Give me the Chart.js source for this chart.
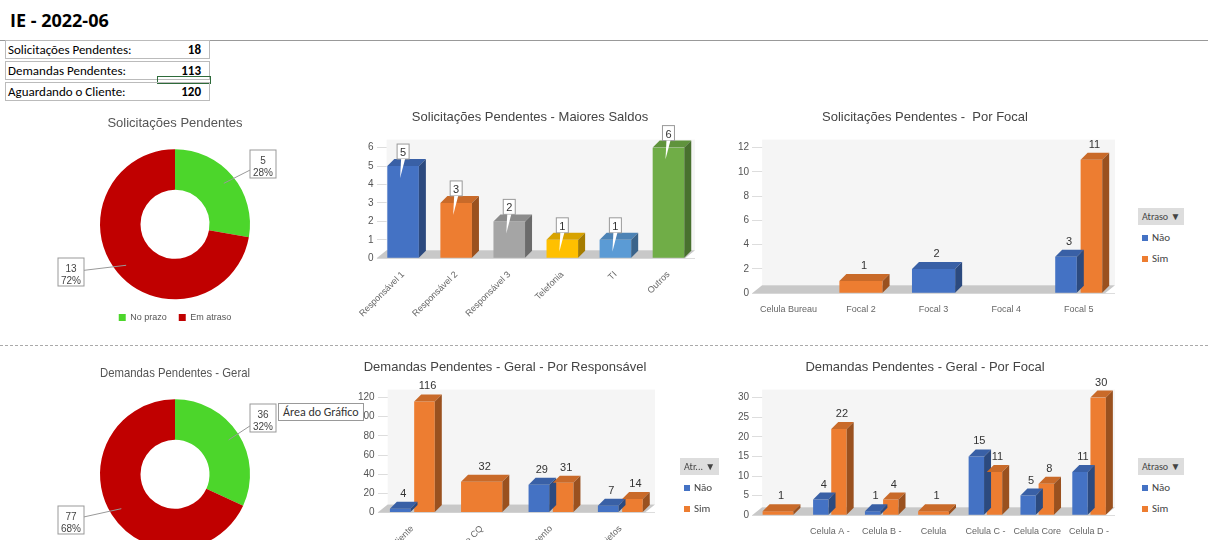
<!DOCTYPE html>
<html><head><meta charset="utf-8">
<script src="https://cdn.jsdelivr.net/npm/chart.js@4"></script>
<style>
body{margin:0;width:1208px;height:540px;background:#fff;font-family:Calibri,"Liberation Sans",Arial,sans-serif;position:relative;overflow:hidden}
.abs{position:absolute}
#title{left:10px;top:8px;font-weight:bold;font-size:18px;font-family:"Open Sans",sans-serif}
#hline{left:0;top:40px;width:1208px;border-top:1px solid #999}
#sep{left:0;top:345px;width:1208px;border-top:1px dashed #aaa}
.kpi{left:5px;width:203px;height:17px;border:1px solid #bbb;font-size:13px;line-height:17px}
.kpi span{position:absolute;right:8px;font-weight:bold}
.kpi b{font-weight:normal;padding-left:2px}
.leg{font-size:11px;color:#444}
.leg .hd{background:#ddd;padding:2px 4px;font-size:10px;margin-bottom:6px;white-space:nowrap}
.sq{display:inline-block;width:6px;height:6px;margin-right:4px}
canvas{position:absolute}
</style></head><body>
<div id="title" class="abs">IE - 2022-06</div>
<div id="hline" class="abs"></div>
<div class="kpi abs" style="top:40px"><b>Solicitações Pendentes:</b><span>18</span></div>
<div class="kpi abs" style="top:61px"><b>Demandas Pendentes:</b><span>113</span></div>
<div class="abs" style="left:157px;top:76px;width:52px;height:6px;border:1px solid #2e6b3a"></div>
<div class="kpi abs" style="top:82px"><b>Aguardando o Cliente:</b><span>120</span></div>
<div id="sep" class="abs"></div>

<canvas id="d1" style="left:40px;top:110px" width="270" height="222"></canvas>
<canvas id="b1" style="left:355px;top:110px" width="360" height="230"></canvas>
<canvas id="b2" style="left:725px;top:110px" width="410" height="228"></canvas>
<canvas id="d2" style="left:40px;top:360px" width="270" height="222"></canvas>
<canvas id="b3" style="left:355px;top:360px" width="330" height="230"></canvas>
<canvas id="b4" style="left:725px;top:360px" width="410" height="180"></canvas>

<div class="leg abs" style="left:1138px;top:208px"><div class="hd">Atraso ▼</div><div style="margin:4px"><span class="sq" style="background:#4472c4"></span>Não</div><div style="margin:8px 4px"><span class="sq" style="background:#ed7d31"></span>Sim</div></div>
<div class="leg abs" style="left:680px;top:458px"><div class="hd">Atr... ▼</div><div style="margin:4px"><span class="sq" style="background:#4472c4"></span>Não</div><div style="margin:8px 4px"><span class="sq" style="background:#ed7d31"></span>Sim</div></div>
<div class="leg abs" style="left:1138px;top:458px"><div class="hd">Atraso ▼</div><div style="margin:4px"><span class="sq" style="background:#4472c4"></span>Não</div><div style="margin:8px 4px"><span class="sq" style="background:#ed7d31"></span>Sim</div></div>
<div class="abs" style="left:278px;top:403px;border:1px solid #999;background:#fff;font-size:12px;padding:1px 4px;color:#333">Área do Gráfico</div>

<script>
const donut1Labels=["No prazo","Em atraso"];
const donut1Values=[5,13];
const donut2Labels=["No prazo","Em atraso"];
const donut2Values=[36,77];
const bar1Labels=["Responsável 1","Responsável 2","Responsável 3","Telefonia","TI","Outros"];
const bar1Values=[5,3,2,1,1,6];
const bar2Labels=["Celula Bureau","Focal 2","Focal 3","Focal 4","Focal 5"];
const bar2Nao=[null,null,2,null,3];
const bar2Sim=[null,1,null,null,11];
const bar3Labels=["Cliente","Homologação e CQ","Desenvolvimento","Projetos"];
const bar3Nao=[4,null,29,7];
const bar3Sim=[116,32,31,14];
const bar4Labels=["","Celula A -","Celula B -","Celula","Celula C -","Celula Core","Celula D -"];
const bar4Nao=[null,4,1,null,15,5,11];
const bar4Sim=[1,22,4,1,11,8,30];

const BLUE='#4472c4',ORANGE='#ed7d31',GREEN='#4cd62b',RED='#c00000';
Chart.defaults.font.family='"Liberation Sans",Arial,sans-serif';
Chart.defaults.color='#555';
Chart.defaults.animation=false;

function shade(hex,f){const n=parseInt(hex.slice(1),16);let r=n>>16,g=(n>>8)&255,b=n&255;return `rgb(${r*f|0},${g*f|0},${b*f|0})`;}

const bar3d={id:'bar3d',beforeDatasetsDraw(c){const a=c.chartArea,x=c.ctx;x.save();
 x.fillStyle='#f5f5f5';x.fillRect(a.left+10,a.top-8,a.width-10,a.height);
 x.fillStyle='#c8c8c8';x.beginPath();x.moveTo(a.left,a.bottom);x.lineTo(a.left+10,a.bottom-8);x.lineTo(a.right,a.bottom-8);x.lineTo(a.right-10,a.bottom);x.closePath();x.fill();x.restore();},
 afterDatasetsDraw(c,args,opt){const x=c.ctx;x.save();
 c.data.datasets.forEach((ds,i)=>{c.getDatasetMeta(i).data.forEach((el,j)=>{const v=ds.data[j];if(v==null)return;
  const col=Array.isArray(ds.backgroundColor)?ds.backgroundColor[j]:ds.backgroundColor;
  const w=el.width,l=el.x-w/2,r=el.x+w/2,t=el.y,b=el.base,d=7;
  x.fillStyle=shade(col,0.85);x.beginPath();x.moveTo(l,t);x.lineTo(l+d,t-d);x.lineTo(r+d,t-d);x.lineTo(r,t);x.fill();
  x.fillStyle=shade(col,0.65);x.beginPath();x.moveTo(r,t);x.lineTo(r+d,t-d);x.lineTo(r+d,b-d);x.lineTo(r,b);x.fill();
  x.font='11px "Liberation Sans",Arial';x.textAlign='center';
  if(opt.boxed){x.fillStyle='#fff';x.strokeStyle='#999';x.fillRect(el.x-6,t-22,12,15);x.strokeRect(el.x-6,t-22,12,15);
   x.beginPath();x.moveTo(el.x-2,t-7);x.lineTo(el.x-3,t+12);x.lineTo(el.x+2,t-7);x.fill();
   x.fillStyle='#333';x.fillText(v,el.x,t-10);}
  else{x.fillStyle='#333';x.fillText(v,el.x+3,t-12);}
 });});x.restore();}};

const donutLbl={id:'donutLbl',afterDatasetsDraw(c,args,opt){const x=c.ctx,m=c.getDatasetMeta(0),ds=c.data.datasets[0];const tot=ds.data.reduce((a,b)=>a+b,0);x.save();
 m.data.forEach((el,i)=>{const ang=(el.startAngle+el.endAngle)/2,R=el.outerRadius;const sx=el.x+Math.cos(ang)*R*0.85,sy=el.y+Math.sin(ang)*R*0.85;const p=opt.pos[i];
  x.strokeStyle='#999';x.beginPath();x.moveTo(sx,sy);x.lineTo(p[0],p[1]+14);x.stroke();
  x.fillStyle='#fff';x.fillRect(p[0]-12,p[1],26,28);x.strokeRect(p[0]-12,p[1],26,28);
  x.fillStyle='#444';x.font='10px "Liberation Sans",Arial';x.textAlign='center';
  x.fillText(ds.data[i],p[0]+1,p[1]+11);x.fillText(Math.round(ds.data[i]/tot*100)+'%',p[0]+1,p[1]+23);});x.restore();}};

function donut(id,labels,values,title,pos){new Chart(document.getElementById(id),{type:'doughnut',plugins:[donutLbl],
 data:{labels,datasets:[{data:values,backgroundColor:[GREEN,RED],borderWidth:0}]},
 options:{responsive:false,cutout:'46%',layout:{padding:{top:6,bottom:0,left:60,right:60}},
 plugins:{title:{display:true,text:title,font:{size:13,weight:'normal'},color:'#555',padding:{bottom:16}},
 legend:{display:true,position:'bottom',labels:{boxWidth:7,boxHeight:7,font:{size:9},padding:12}},tooltip:{enabled:false},donutLbl:{pos}}}});}

donut('d1',donut1Labels,donut1Values,'Solicitações Pendentes',[[222,40],[30,148]]);
donut('d2',donut2Labels,donut2Values,'Demandas Pendentes - Geral',[[222,44],[30,146]]);

function bar(id,labels,datasets,title,max,step,boxed,rot,pad){new Chart(document.getElementById(id),{type:'bar',plugins:[bar3d],
 data:{labels,datasets},
 options:{responsive:false,layout:{padding:pad},
 datasets:{bar:{categoryPercentage:0.7,barPercentage:0.85,skipNull:true}},
 scales:{y:{min:0,max,ticks:{stepSize:step,font:{size:10},autoSkip:false},grid:{color:'#ddd',drawTicks:false},border:{display:false}},
 x:{grid:{display:false},ticks:{font:{size:9},color:'#666',maxRotation:rot,minRotation:rot,autoSkip:false},border:{display:false}}},
 plugins:{title:{display:true,text:title,font:{size:13,weight:'normal'},color:'#444',padding:{bottom:22}},legend:{display:false},tooltip:{enabled:false},bar3d:{boxed}}}});}

bar('b1',bar1Labels,[{data:bar1Values,backgroundColor:[BLUE,ORANGE,'#a5a5a5','#ffc000','#5b9bd5','#70ad47']}],'Solicitações Pendentes - Maiores Saldos',6,1,true,45,{left:10,right:20,top:0,bottom:18});
bar('b2',bar2Labels,[{label:'Não',data:bar2Nao,backgroundColor:BLUE},{label:'Sim',data:bar2Sim,backgroundColor:ORANGE}],'Solicitações Pendentes -  Por Focal',12,2,false,0,{left:10,right:20,bottom:20});
bar('b3',bar3Labels,[{label:'Não',data:bar3Nao,backgroundColor:BLUE},{label:'Sim',data:bar3Sim,backgroundColor:ORANGE}],'Demandas Pendentes - Geral - Por Responsável',120,20,false,45,{left:0,right:30});
bar('b4',bar4Labels,[{label:'Não',data:bar4Nao,backgroundColor:BLUE},{label:'Sim',data:bar4Sim,backgroundColor:ORANGE}],'Demandas Pendentes - Geral - Por Focal',30,5,false,0,{left:10,right:20});
</script>
</body></html>
